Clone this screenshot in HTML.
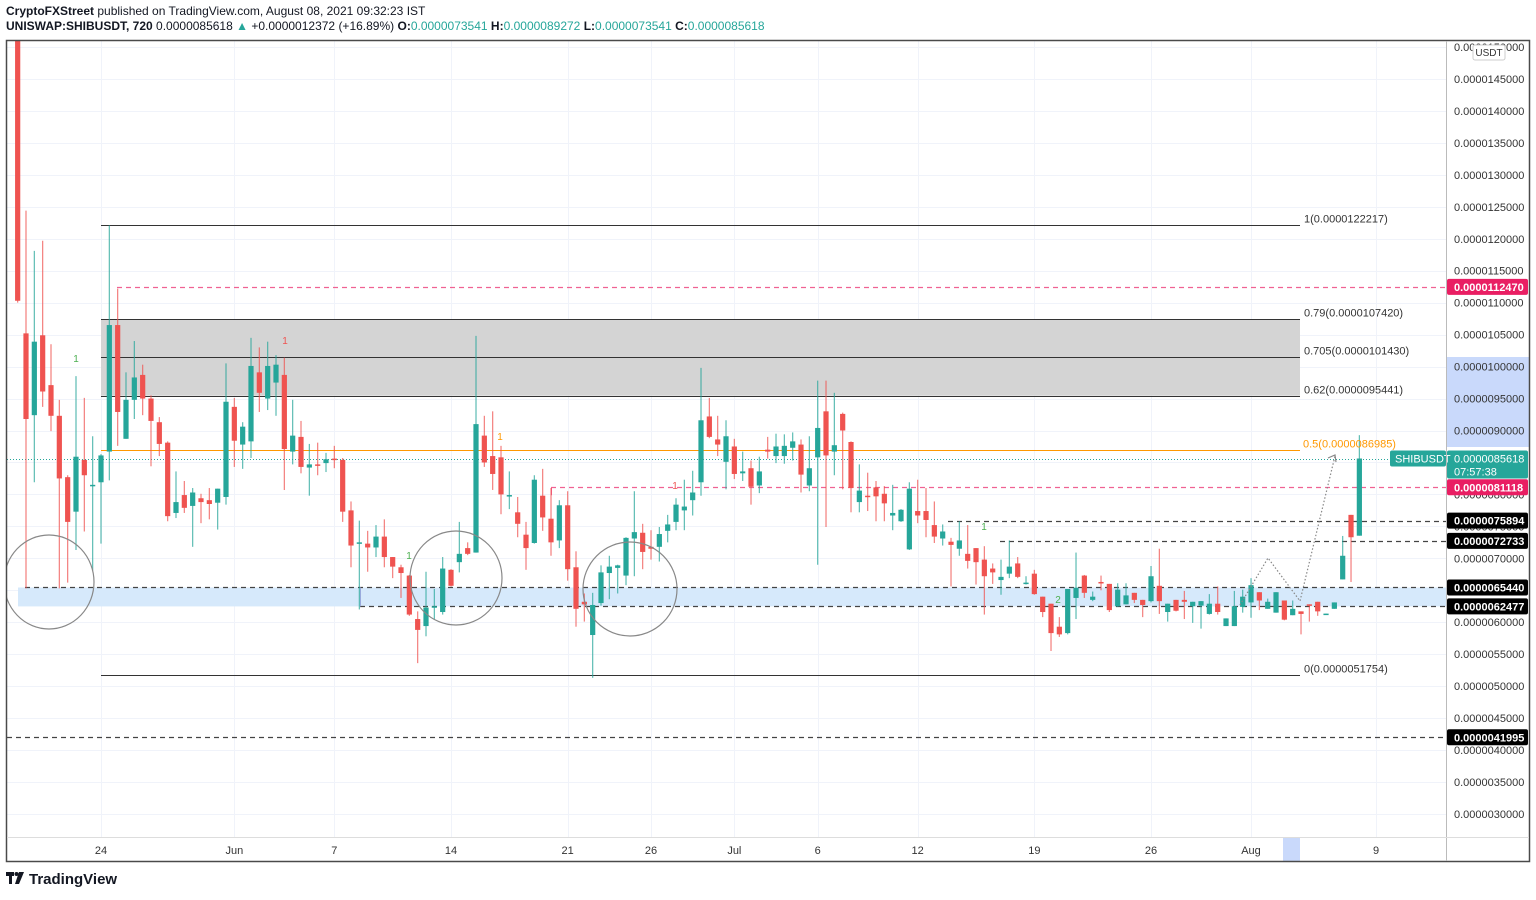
<!DOCTYPE html>
<html><head><meta charset="utf-8"><title>SHIBUSDT chart</title>
<style>
html,body{margin:0;padding:0;background:#fff;}
body{width:1536px;height:895px;overflow:hidden;font-family:"Liberation Sans",sans-serif;}
svg text{font-family:"Liberation Sans",sans-serif;}
</style></head>
<body>
<svg id="chart" width="1536" height="895" viewBox="0 0 1536 895" xmlns="http://www.w3.org/2000/svg">
  <defs><clipPath id="plotclip"><rect x="7" y="41" width="1439" height="796"/></clipPath></defs>
  <rect x="0" y="0" width="1536" height="895" fill="#fff"/>
  <text x="6" y="15" font-size="12" fill="#131722"><tspan font-weight="bold">CryptoFXStreet</tspan> published on TradingView.com, August 08, 2021 09:32:23 IST</text>
  <text x="6" y="30" font-size="12" fill="#131722"><tspan font-weight="bold">UNISWAP:SHIBUSDT, 720</tspan> 0.0000085618 <tspan fill="#26a69a">▲</tspan> +0.0000012372 (+16.89%) <tspan font-weight="bold">O:</tspan><tspan fill="#26a69a">0.0000073541</tspan> <tspan font-weight="bold">H:</tspan><tspan fill="#26a69a">0.0000089272</tspan> <tspan font-weight="bold">L:</tspan><tspan fill="#26a69a">0.0000073541</tspan> <tspan font-weight="bold">C:</tspan><tspan fill="#26a69a">0.0000085618</tspan></text>
  <g id="grid"></g>
  <g id="zones" clip-path="url(#plotclip)"></g>
  <g id="candles" clip-path="url(#plotclip)"></g>
  <g id="over" clip-path="url(#plotclip)"></g>
  <g id="axis"></g>
  <g id="taxis"></g>
  <rect x="6.5" y="40.5" width="1523" height="821" fill="none" stroke="#4a4a4a" stroke-width="1.5"/>
  <line x1="1446.5" y1="41" x2="1446.5" y2="861" stroke="#bbb" stroke-width="1"/>
  <line x1="7" y1="837.5" x2="1529" y2="837.5" stroke="#ddd" stroke-width="1"/>
  <g>
    <rect x="6" y="872" width="8" height="4" fill="#131722"/>
    <rect x="9" y="872" width="3" height="12" fill="#131722"/>
    <circle cx="16.5" cy="874" r="2" fill="#131722"/>
    <polygon points="19,872 24,872 19,884 15,884" fill="#131722"/>
    <text x="29" y="884" font-size="15" font-weight="bold" fill="#131722">TradingView</text>
  </g>
</svg>
<script>
var opens=[170,105.2,92.4,104.9,97.1,92.3,82.7,77.3,85.4,81.4,81.9,86.7,106.5,88.7,94.8,98.7,95,91.3,88.1,77.1,79.9,78.2,79.4,79.1,78.7,79.6,93.7,87.8,88.3,99.1,95,97.5,98.7,86.7,89,84.2,84.7,84.9,85.6,85.4,77.5,72.3,72.3,71.7,73.4,70.2,68.6,67.3,60.5,59.4,62.4,61.6,68.2,69.4,71.6,70.9,89.2,86,85.8,79.8,77.2,73.7,72.4,79.8,76.2,72.8,78.3,68.6,63.2,58,63,67.7,68.5,67.3,73.1,74,71.8,71.8,74.3,75.7,77.5,79.1,81.9,92.2,88.6,85.1,87.5,83.3,84.1,81.4,87,86,86,87.3,87.8,81.4,85.8,93,86.7,92.6,88.2,78.8,79.8,81.1,80.1,76.7,75.8,71.4,77.4,77.4,75.2,73.1,72.6,71.5,70.7,71.6,69.8,68.4,66.6,67.6,69.2,66.1,67.6,64,62.9,59.3,58.3,63.8,67.3,63.5,66.3,66,62.5,62.8,64.6,63.5,63.3,65.7,61.6,63.5,63.5,62.5,62.6,61.3,62.9,59.4,59.4,62.4,63.1,64.7,62.1,61.5,63.4,61.1,61.7,62.8,63.2,61.3,62.1,66.7,76.8,73.541];
var highs=[178,124.4,118.1,119.7,103.5,94.8,83,98.5,95.1,89.1,86.3,122.1,112.2,99.1,104,100.3,95.5,92.1,88.3,83.6,82.1,81,80.1,81,80.9,100.5,95.1,91.3,104.5,103,103.9,101.8,101.4,94.8,91.5,87.9,88.1,86.5,87.6,85.7,78.9,75.9,74.3,75.2,76.1,70.2,69,67.4,61.7,67.9,65.2,70.2,68.3,75.7,72.5,104.8,92.3,93,87.6,83.6,79.6,75.7,83,84,81,79.1,80.5,71.1,64.5,64.6,68.9,70.4,69,73.3,80.5,75.4,74.4,74.9,76.8,79.4,82.3,83.7,99.8,95.1,92.3,91.6,88.7,86.7,85.3,85.9,89,89.5,89.4,89.7,88.6,89.1,97.8,97.8,95.9,92.8,88.3,84.7,83.4,82.1,81.3,81.5,77.7,81.9,82.3,81,78.9,75.3,73.2,75.8,75.2,71.6,71.9,69.2,69.8,72.8,70.2,67.2,68.2,64,62.9,60.8,65.2,70.9,67.4,64.8,67.3,66,66.1,66.1,64.6,63.5,68.8,71.5,62.9,63.5,64.9,63.2,63.3,64.4,65.6,60.6,64.9,65.1,66.9,64.7,63.7,64.7,63.4,63.4,61.7,62.8,63.2,61.35,63.1,73.5,76.8,89.272];
var lows=[110,65.3,81.9,93.7,89.9,65.3,66.2,71.3,74.2,68.1,72.3,82.2,87.6,88.7,91.8,92.4,84.4,86,75.8,76.3,77.1,71.8,75.5,76.1,74.5,78.4,84.3,84,85.7,92.9,93.2,92.3,80.7,84.7,83.3,79.8,83,83.5,84.1,75.7,68.6,62,67.9,70.2,68.6,66.9,63.8,61,53.6,57.8,60.4,61.2,65.6,67.8,70.5,70.9,84.3,80.7,76.9,77.7,73.3,68.2,72.3,74.3,70.4,71.6,66.5,59.3,60.1,51.3,62.6,63.6,64.5,65.8,67.2,68.3,69.8,69.5,72.5,74.4,74.4,76.7,79.8,88.8,86,80.8,82.4,82.1,78.4,80.2,85.6,84.9,84.8,85.3,80.3,80.5,69,74.9,83,80.8,77.2,77.2,77.4,75.8,75.8,74.4,75.7,71.3,75.5,73.3,72.4,72,65.6,70.4,68.4,65.9,61.2,66,64.3,66.9,66.9,65.9,64.3,60.8,55.5,57.7,58.1,60.5,63.8,63.3,65,61.6,62.4,62.8,63,60.8,63.1,61.3,60.1,61.7,60.5,59.9,59,61.2,61.2,59.4,59.4,61.5,60.7,61.9,62.1,61.5,60.3,61.1,58.1,60.1,61,61.3,62.1,66.7,66.3,73.541];
var closes=[110.3,91.8,103.9,96.1,92.3,82.5,75.7,85.9,83,81.5,86.1,106.5,92.9,94.8,98.3,95,91.5,87.9,76.6,78.8,77.9,80.3,78.8,78.5,80.9,94.5,88.4,90.6,100.1,95.9,100.1,100.3,87.1,89.2,84.3,84.7,84.6,85.5,85.5,77.3,72,72.5,71.7,73.4,70.2,68.7,67.7,61.2,58.8,62.3,62.5,68.4,65.7,70.7,70.7,91,85,83.2,80,79.9,75.4,71.6,82.3,76.4,72.5,78.3,68.3,62.1,62.8,62.7,67.8,68.7,68.9,73.2,74.1,71,71.5,73.8,75.3,78.4,78.1,80.3,91.6,89,87.8,89.1,83.2,83.6,81.2,83.6,86.7,87.5,87.6,88.3,83.1,84.1,90.4,86.1,87.7,90,81,80.6,79.6,79.7,78.6,77.1,77.6,80.9,76.7,76,73.4,74.2,72.1,72.8,69.6,69.4,67.2,67.8,67.1,68.7,67.1,66.2,64.4,61.6,58.3,58.1,65.2,65.4,64.6,64,66.1,61.9,65.1,64.2,63.5,62.7,67.2,63.3,62.9,61.8,63.2,63.2,63.3,62.9,61.6,60.6,62.5,64,65.8,63.4,63.2,64.7,60.4,62.1,61.3,62.6,61.7,61.35,63.1,70.4,73.3,85.618];
var priceTicks=[30,35,40,45,50,55,60,65,70,75,80,85,90,95,100,105,110,115,120,125,130,135,140,145,150];
var dateLabels=["24","Jun","7","14","21","26","Jul","6","12","19","26","Aug","9"];
var dateDays=[0,8,14,21,28,33,38,43,49,56,63,69,76.5];
var fibRatios=["1","0.79","0.705","0.62","0"];
var fibPrices=[122.217,107.42,101.43,95.441,51.754];
var halfFib=86.985;
var lastPrice=85.618;

var NS="http://www.w3.org/2000/svg";
function Y(p){return 79+(145-p)*6.391;}
function X(day){return 101+day*16.667;}
function candleX(i){return X(-5+i*0.5);}
function fmtP(p){return (p*1e-7).toFixed(10);}
function mk(tag,attrs,parent){var e=document.createElementNS(NS,tag);for(var k in attrs)e.setAttribute(k,attrs[k]);parent.appendChild(e);return e;}

var grid=document.getElementById('grid'),zones=document.getElementById('zones'),cg=document.getElementById('candles'),over=document.getElementById('over'),axis=document.getElementById('axis'),taxis=document.getElementById('taxis');

priceTicks.forEach(function(p){
  var y=Math.round(Y(p))+0.5;
  var l=mk('line',{x1:7,y1:y,x2:1446,y2:y,stroke:'#f0f3fa','stroke-width':1},grid);
  
  
});
dateDays.forEach(function(d){
  var x=Math.round(X(d))+0.5;
  var l=mk('line',{x1:x,y1:41,x2:x,y2:837,stroke:'#f0f3fa','stroke-width':1},grid);
  
  
});

var band=mk('rect',{x:18,y:Y(65.44),width:1428,height:Y(62.477)-Y(65.44),fill:'#d6e9fb'},zones);


var gz=mk('rect',{x:101,y:Y(fibPrices[1]),width:1199,height:Y(fibPrices[3])-Y(fibPrices[1]),fill:'#d4d4d4'},zones);


fibPrices.forEach(function(p,i){
  var y=Math.round(Y(p))+0.5;
  var l=mk('line',{x1:101,y1:y,x2:1300,y2:y,stroke:'#333','stroke-width':1},zones);
  
  
  var t=mk('text',{x:1304,y:y-3,'font-size':11,fill:'#333'},over);
  t.textContent=fibRatios[i]+"("+fmtP(p)+")";
  
  
});
var hy=Math.round(Y(halfFib))+0.5;
var hl=mk('line',{x1:101,y1:hy,x2:1300,y2:hy,stroke:'#ff9800','stroke-width':1},zones);


var ht=mk('text',{x:1303,y:hy-3,'font-size':11,fill:'#ff9800'},over);
ht.textContent="0.5("+fmtP(halfFib)+")";



function dash(x1,p,col,name){
  var y=Math.round(Y(p))+0.5;
  var l=mk('line',{x1:x1,y1:y,x2:1446,y2:y,stroke:col,'stroke-width':1.2,'stroke-dasharray':'5,4'},zones);
  
  
}
dash(117,112.47,'#f06292','resistance-line-112470');
dash(551,81.118,'#f06292','resistance-line-81118');
dash(948,75.894,'#444','level-line-75894');
dash(1000,72.733,'#444','level-line-72733');
dash(25,65.44,'#444','level-line-65440');
dash(360,62.477,'#444','level-line-62477');
dash(7,41.995,'#444','level-line-41995');
mk('line',{x1:551.5,y1:Y(81.118),x2:551.5,y2:Y(81.118)+8,stroke:'#f06292'},zones);
mk('line',{x1:360.5,y1:Y(65.44),x2:360.5,y2:Y(62.477),stroke:'#9ad'},zones);
var ly=Math.round(Y(lastPrice))+0.5;
var cl=mk('line',{x1:7,y1:ly,x2:1446,y2:ly,stroke:'#26a69a','stroke-width':1,'stroke-dasharray':'1,2'},zones);



for(var i=0;i<opens.length;i++){
  var o=opens[i],hi=highs[i],lo=lows[i],c=closes[i];
  var up=c>=o,col=up?'#26a69a':'#ef5350';
  var cx=candleX(i);
  var g=mk('g',{},cg);
  
  
  mk('line',{x1:cx,y1:Y(hi),x2:cx,y2:Y(lo),stroke:col,'stroke-width':1.2,'stroke-opacity':0.75},g);
  var bodyTop=Y(Math.max(o,c)),bodyBot=Y(Math.min(o,c));
  mk('rect',{x:cx-2.6,y:bodyTop,width:5.2,height:Math.max(1.5,bodyBot-bodyTop),fill:col},g);
}

[[49,582,45,47],[456,578,46,47],[630,589,47,47]].forEach(function(e){
  var el=mk('ellipse',{cx:e[0],cy:e[1],rx:e[2],ry:e[3],fill:'none',stroke:'#888','stroke-width':1.2},over);
  
  
});
var path=mk('polyline',{points:'1240,605 1268,558 1300,601 1335,456',fill:'none',stroke:'#888','stroke-width':1.2,'stroke-dasharray':'1.5,2'},over);


mk('polyline',{points:'1328,458 1335,455 1336,462',fill:'none',stroke:'#888','stroke-width':1.2},over);
[[76,362,'#4caf50','1'],[285,344,'#ef5350','1'],[409,559,'#4caf50','1'],[984,530,'#4caf50','1'],[1058,603,'#4caf50','2'],[675,489,'#ef5350','1'],[500,440,'#ff9800','1']].forEach(function(m){
  var t=mk('text',{x:m[0],y:m[1],'font-size':10,fill:m[2],'text-anchor':'middle'},over);
  t.textContent=m[3];
  
  
});

var sel=mk('rect',{x:1447,y:357,width:82,height:90,fill:'#c9d9fb'},axis);


priceTicks.forEach(function(p){
  var y=Y(p);
  var t=mk('text',{x:1454,y:y+4,'font-size':11,fill:'#333'},axis);
  t.textContent=fmtP(p);
  
  
});
mk('rect',{x:1473,y:45,width:32,height:15,rx:2,fill:'#fff',stroke:'#ccc'},axis);
var ut=mk('text',{x:1489,y:56,'font-size':10,fill:'#333','text-anchor':'middle'},axis);
ut.textContent='USDT';


function tag(p,bg,name){
  var y=Y(p);
  var r=mk('rect',{x:1447,y:y-8,width:81,height:16,rx:2,fill:bg},axis);
  
  
  var t=mk('text',{x:1454,y:y+4,'font-size':11,'font-weight':'bold',fill:'#fff'},axis);
  t.textContent=fmtP(p);
  
  
}
tag(112.47,'#e91e63','price-tag-112470');
tag(81.118,'#e91e63','price-tag-81118');
tag(75.894,'#000','price-tag-75894');
tag(72.733,'#000','price-tag-72733');
tag(65.44,'#000','price-tag-65440');
tag(62.477,'#000','price-tag-62477');
tag(41.995,'#000','price-tag-41995');
var lyy=Y(lastPrice);
var lr=mk('rect',{x:1447,y:lyy-8,width:81,height:28,rx:2,fill:'#26a69a'},axis);


var lt=mk('text',{x:1454,y:lyy+4,'font-size':11,fill:'#fff'},axis);
lt.textContent=fmtP(lastPrice);


var ct=mk('text',{x:1454,y:lyy+17,'font-size':11,fill:'#fff'},axis);
ct.textContent='07:57:38';


var sr=mk('rect',{x:1390,y:lyy-8,width:56,height:16,rx:2,fill:'#26a69a'},axis);


var st=mk('text',{x:1395,y:lyy+4,'font-size':11,fill:'#fff'},axis);
st.textContent='SHIBUSDT';



var hb=mk('rect',{x:1283,y:838,width:17,height:23,fill:'#c9d9fb'},taxis);


dateLabels.forEach(function(lbl,i){
  var t=mk('text',{x:X(dateDays[i]),y:854,'font-size':11,fill:'#333','text-anchor':'middle'},taxis);
  t.textContent=lbl;
  
  
});
</script>
</body></html>
